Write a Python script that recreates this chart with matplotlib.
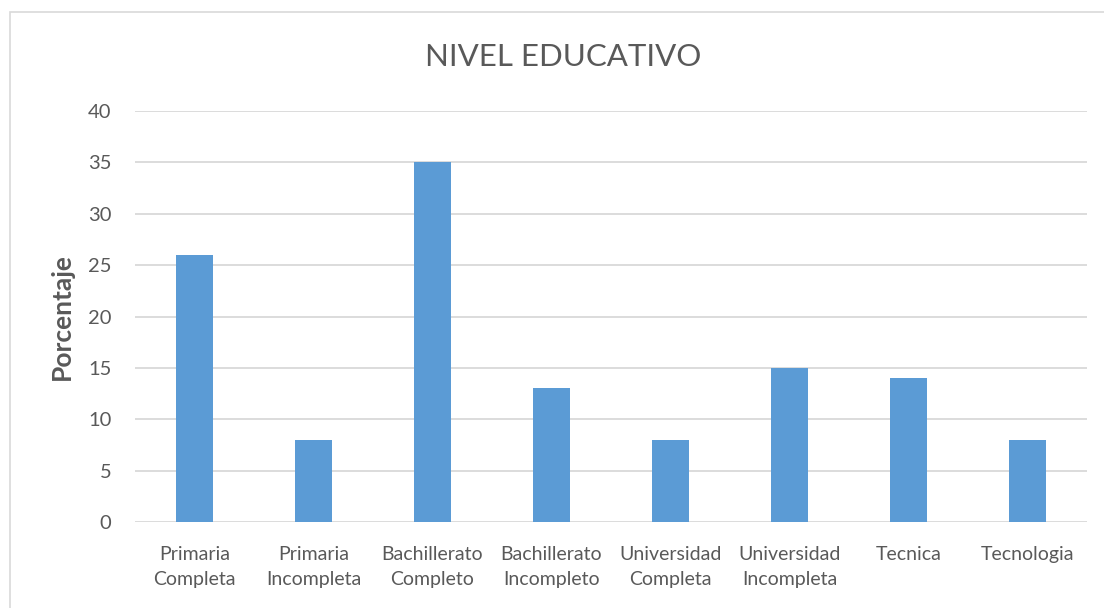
import matplotlib
matplotlib.use("Agg")
import matplotlib.pyplot as plt
from matplotlib.patches import Rectangle

categorias = ["Primaria\nCompleta", "Primaria\nIncompleta", "Bachillerato\nCompleto",
              "Bachillerato\nIncompleto", "Universidad\nCompleta", "Universidad\nIncompleta",
              "Tecnica", "Tecnologia"]
porcentaje = [26, 8, 35, 13, 8, 15, 14, 8]
yticks = [0, 5, 10, 15, 20, 25, 30, 35, 40]

gris = "#595959"
plt.rcParams["font.family"] = ["Lato", "DejaVu Sans"]

fig = plt.figure(figsize=(11.04, 6.08), dpi=100)
W, H = 1104, 608

# borde del area del grafico (se sale por derecha y abajo)
fig.patches.append(Rectangle((10 / W, -0.1), 1.2, (608 - 12) / H + 0.1,
                             transform=fig.transFigure, fill=False,
                             edgecolor="#d9d9d9", linewidth=1.2))

ax = fig.add_axes([135 / W, (H - 522) / H, 952 / W, 411 / H])
x = range(len(categorias))
ax.bar(x, porcentaje, width=0.31, color="#5b9bd5", zorder=3)
ax.set_xlim(-0.5, len(categorias) - 0.5)
ax.set_ylim(0, 40)
ax.set_yticks(yticks)
ax.set_xticks(list(x))
ax.set_xticklabels(categorias, linespacing=1.6)
ax.grid(axis="y", color="#d9d9d9", linewidth=1.3, zorder=0)
for s in ax.spines.values():
    s.set_visible(False)
ax.tick_params(axis="both", length=0, colors=gris)
ax.tick_params(axis="y", labelsize=14.5, pad=17)
ax.tick_params(axis="x", labelsize=14, pad=17)

ax.set_ylabel("Porcentaje", fontsize=19, fontweight="bold", color=gris)
ax.yaxis.set_label_coords((74 - 135) / 952, 0.5)

fig.text(563 / W, 1 - 57 / H, "NIVEL EDUCATIVO", fontsize=22.5, color=gris,
         ha="center", va="center")

fig.savefig("out.png", dpi=100)
